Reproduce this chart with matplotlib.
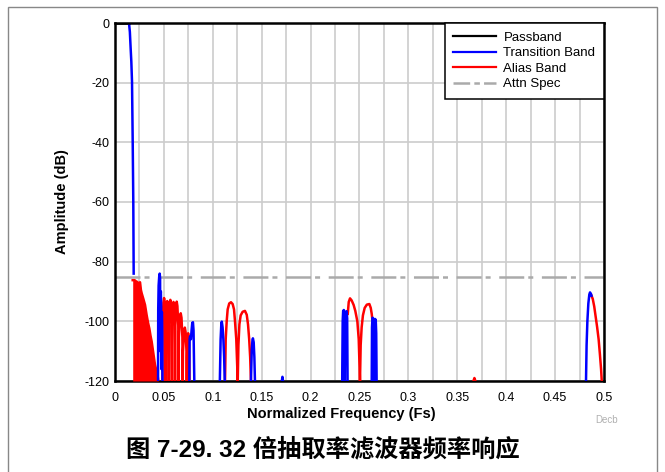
import numpy as np
import matplotlib
matplotlib.use("Agg")
import matplotlib.pyplot as plt
from matplotlib.lines import Line2D
from matplotlib.patches import Rectangle

plt.rcParams['font.family'] = ['Liberation Sans', 'Noto Sans CJK SC']
plt.rcParams['lines.scale_dashes'] = False

nan = np.nan

# ---- response data (normalized frequency, dB) ----
passband_f = [0.0, 0.005, 0.010, 0.0143]
passband_db = [0.0, 0.0, 0.0, 0.0]

# transition-band traces, NaN separates the individual pieces
transition_f = [
    0.0143, 0.0152, 0.0160, 0.0167, 0.0174, 0.0181, 0.0187, 0.0191, nan,
    0.0440, 0.0442, 0.0446, 0.0452, 0.0457, 0.0461, 0.0463, 0.0465, 0.0469,
    0.0472, 0.0474, 0.0476, 0.0480, 0.0483, 0.0485, nan,
    0.0760, 0.0763, 0.0768, 0.0776, 0.0783, 0.0790, 0.0797, 0.0803, 0.0811, nan,
    0.1072, 0.1080, 0.1087, 0.1092, 0.1100, 0.1108, 0.1116, 0.1122, nan,
    0.1390, 0.1398, 0.1405, 0.1410, 0.1418, 0.1425, 0.1431, nan,
    0.1706, 0.1712, 0.1718, nan,
    0.2323, 0.2328, 0.2333, 0.2340, 0.2346, 0.2350, 0.2355, 0.2361, 0.2368, 0.2374, 0.2378, nan,
    0.2625, 0.2628, 0.2633, 0.2640, 0.2646, 0.2650, 0.2654, 0.2659, 0.2666, 0.2671, 0.2675, nan,
    0.4816, 0.4822, 0.4830, 0.4840, 0.4850, 0.4857, 0.4866, 0.4872,
]
transition_db = [
    0.0, -3.0, -8.5, -13.0, -19.7, -39.8, -59.9, -84.0, nan,
    -120, -96, -88, -85, -84, -85.5, -110, -92, -90,
    -95, -116, -98, -97, -104, -120, nan,
    -120, -106, -105, -106, -103, -100.5, -100.3, -103, -120, nan,
    -120, -106, -101, -100.1, -102, -106, -112, -120, nan,
    -120, -110, -106.5, -105.7, -107, -112, -120, nan,
    -120, -118.6, -120, nan,
    -120, -100, -96.5, -96.2, -100, -120, -100, -96.8, -96.6, -99, -120, nan,
    -120, -102, -98.8, -99, -104, -120, -104, -99.2, -99.5, -104, -120, nan,
    -120, -108, -100, -94, -91, -90.3, -90.8, -91.4,
]

# densely packed alias lobes just past the passband (upper envelope)
alias_dense_f = [0.0181, 0.0200, 0.0215, 0.0228, 0.0240, 0.0256, 0.0265, 0.0273,
                 0.0290, 0.0307, 0.0324, 0.0338, 0.0351, 0.0363, 0.0375, 0.0392,
                 0.0409, 0.0426, 0.0437, 0.0443]
alias_dense_db = [-86.2, -86.2, -86.6, -86.8, -87.5, -86.9, -89.5, -90.6,
                  -92.5, -94.5, -98.0, -100.5, -102.4, -104.8, -106.8, -110.7,
                  -114.6, -116.9, -118.5, -120.0]

# alias-band lobes, NaN separates the individual pieces
alias_f = [
    0.0485, 0.0488, 0.0495, 0.0502, 0.0509, 0.0515,
    0.0518, 0.0521, 0.0527, 0.0534, 0.0541, 0.0547,
    0.0550, 0.0553, 0.0559, 0.0566, 0.0573, 0.0579,
    0.0582, 0.0585, 0.0591, 0.0598, 0.0605, 0.0611,
    0.0614, 0.0617, 0.0624, 0.0631, 0.0638, 0.0647,
    0.0650, 0.0653, 0.0664, 0.0672, 0.0680, 0.0689,
    0.0692, 0.0695, 0.0706, 0.0714, 0.0722, 0.0731,
    0.0734, 0.0737, 0.0742, 0.0748, 0.0754, 0.0759,
    0.0762, nan,
    0.1125, 0.1132, 0.1142, 0.1152, 0.1168, 0.1186, 0.1203, 0.1217, 0.1227,
    0.1240, 0.1255, 0.1262, 0.1272, 0.1285, 0.1305, 0.1329, 0.1347, 0.1360,
    0.1372, 0.1382, 0.1390, nan,
    0.2380, 0.2390, 0.2403, 0.2420, 0.2440, 0.2457, 0.2478, 0.2492, 0.2505,
    0.2512, 0.2522, 0.2535, 0.2553, 0.2575, 0.2601, 0.2615, 0.2625, 0.2632, nan,
    0.3665, 0.3675, 0.3685, nan,
    0.4870, 0.4885, 0.4900, 0.4915, 0.4930, 0.4945, 0.4958, 0.4970, 0.4977,
]
alias_db = [
    -120, -100.2, -93.7, -92.2, -93.7, -100.2,
    -120, -101.2, -94.7, -93.2, -94.7, -101.2,
    -120, -100.8, -94.3, -92.8, -94.3, -100.8,
    -120, -101.5, -95.0, -93.5, -95.0, -101.5,
    -120, -101.4, -94.9, -93.4, -94.9, -101.4,
    -120, -105.3, -98.8, -97.3, -98.8, -105.3,
    -120, -110.1, -103.6, -102.1, -103.6, -110.1,
    -120, -112.0, -105.5, -104.0, -105.5, -112.0,
    -120, nan,
    -120, -106, -100, -96, -94, -93.6, -94.2, -96, -100,
    -106, -120, -108, -101, -98, -96.8, -96.5, -97.8, -101,
    -106, -112, -120, nan,
    -97.5, -93.5, -92.3, -93.0, -94.5, -96.5, -100, -106, -120,
    -108, -102, -98, -95.5, -94.4, -94.2, -95.5, -97.5, -99.5, nan,
    -120, -119, -120, nan,
    -91.2, -92.5, -95, -98.5, -102, -106, -111, -116, -120,
]

attn_spec_db = -85

x_ticks = [0, 0.05, 0.1, 0.15, 0.2, 0.25, 0.3, 0.35, 0.4, 0.45, 0.5]
x_tick_labels = ['0', '0.05', '0.1', '0.15', '0.2', '0.25', '0.3', '0.35', '0.4', '0.45', '0.5']
y_ticks = [-120, -100, -80, -60, -40, -20, 0]

BLUE = '#0000ff'
RED = '#ff0000'
GRAY = '#aaaaaa'
LW = 1.8
attn_dash = (0, (18, 2.9, 3.6, 6.2))

fig = plt.figure(figsize=(6.65, 4.72), dpi=100)
ax = fig.add_axes([115 / 665, 1 - 381 / 472, 489 / 665, 358 / 472])

ax.set_xlim(0, 0.5)
ax.set_ylim(-120, 0)
ax.set_xticks(x_ticks)
ax.set_xticklabels(x_tick_labels)
ax.set_xticks(np.arange(0.025, 0.5, 0.05), minor=True)
ax.set_yticks(y_ticks)
ax.set_yticklabels([str(v) for v in y_ticks])
ax.tick_params(which='both', length=0, labelsize=9)
ax.tick_params(axis='x', pad=8)
ax.tick_params(axis='y', pad=4)
ax.grid(True, which='both', axis='x', color='#cccccc', lw=1.2)
ax.grid(True, which='major', axis='y', color='#cccccc', lw=1.2)
ax.set_axisbelow(True)
for s in ax.spines.values():
    s.set_linewidth(1.8)
    s.set_color('black')

ax.axhline(attn_spec_db, color=GRAY, lw=1.8, linestyle=attn_dash, zorder=2)
ax.fill_between(alias_dense_f, alias_dense_db, -120, color=RED, lw=0, zorder=3)
ax.plot(alias_dense_f, alias_dense_db, color=RED, lw=LW, zorder=3)
ax.plot(alias_f, alias_db, color=RED, lw=LW, zorder=3)
ax.plot(transition_f, transition_db, color=BLUE, lw=LW, zorder=4)
ax.plot(passband_f, passband_db, color='black', lw=LW, zorder=5)

handles = [
    Line2D([], [], color='black', lw=1.6),
    Line2D([], [], color=BLUE, lw=1.6),
    Line2D([], [], color=RED, lw=1.6),
    Line2D([], [], color=GRAY, lw=1.8, linestyle=(0, (12, 3, 4, 3))),
]
labels = ['Passband', 'Transition Band', 'Alias Band', 'Attn Spec']
leg = ax.legend(handles, labels, loc='upper right', fontsize=9.5, fancybox=False,
                framealpha=1, edgecolor='black', borderaxespad=0, borderpad=0.65,
                handlelength=3.2, handletextpad=0.6, labelspacing=0.25)
leg.get_frame().set_linewidth(1.1)

fig.text(62 / 665, 1 - 202 / 472, 'Amplitude (dB)', rotation=90, ha='center',
         va='center', fontsize=10.5, fontweight='bold')
fig.text(341 / 665, 1 - 414 / 472, 'Normalized Frequency (Fs)', ha='center',
         va='center', fontsize=10.5, fontweight='bold')
fig.text(607 / 665, 1 - 420 / 472, 'Decb', ha='center', va='center',
         fontsize=7, color='#b0b0b0')
fig.text(323 / 665, 1 - 449 / 472, '图 7-29. 32 倍抽取率滤波器频率响应', ha='center',
         va='center', fontsize=17.5, fontweight='bold')

fig.patches.append(Rectangle((7.5 / 665, -0.05), (657 - 7.5) / 665, 1.05 - 7.5 / 472,
                             transform=fig.transFigure, fill=False,
                             edgecolor='#888888', lw=1.0))

fig.savefig('out.png', dpi=100)
